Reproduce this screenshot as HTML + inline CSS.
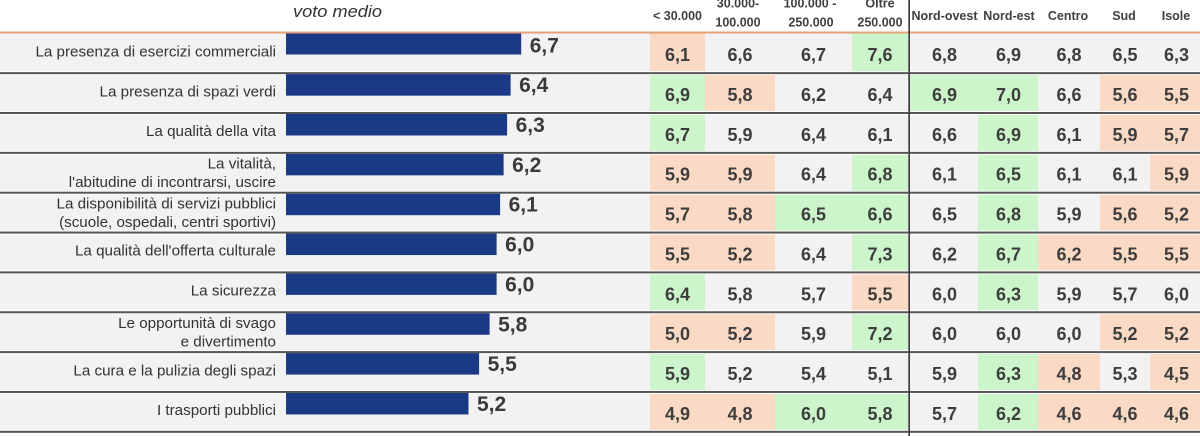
<!DOCTYPE html>
<html><head><meta charset="utf-8"><style>
html,body{margin:0;padding:0;background:#fff;}
svg{display:block;}
text{font-family:"Liberation Sans",Arial,sans-serif;}
.h{font-size:12.5px;font-weight:bold;fill:#404040;text-anchor:middle;}
.l{font-size:15.2px;fill:#333;text-anchor:end;}
.v{font-size:18px;font-weight:bold;fill:#3d3d3d;text-anchor:middle;}
.b{font-size:21px;font-weight:bold;fill:#3a3a3a;}
</style></head><body>
<svg width="1200" height="436" viewBox="0 0 1200 436" xmlns="http://www.w3.org/2000/svg">
<rect x="0" y="0" width="1200" height="436" fill="#fff"/>
<rect x="0" y="33.3" width="1200" height="398.5" fill="#f2f2f2"/>

<g>
<rect x="650" y="33.3" width="55" height="39.85" fill="#fad9c5"/>
<rect x="852" y="33.3" width="56" height="39.85" fill="#ccf5cc"/>
<rect x="650" y="73.15" width="55" height="39.85" fill="#ccf5cc"/>
<rect x="705" y="73.15" width="70" height="39.85" fill="#fad9c5"/>
<rect x="910" y="73.15" width="128" height="39.85" fill="#ccf5cc"/>
<rect x="1100" y="73.15" width="100" height="39.85" fill="#fad9c5"/>
<rect x="650" y="113" width="55" height="39.85" fill="#ccf5cc"/>
<rect x="978" y="113" width="60" height="39.85" fill="#ccf5cc"/>
<rect x="1100" y="113" width="100" height="39.85" fill="#fad9c5"/>
<rect x="650" y="152.85" width="125" height="39.85" fill="#fad9c5"/>
<rect x="852" y="152.85" width="56" height="39.85" fill="#ccf5cc"/>
<rect x="978" y="152.85" width="60" height="39.85" fill="#ccf5cc"/>
<rect x="1150" y="152.85" width="50" height="39.85" fill="#fad9c5"/>
<rect x="650" y="192.7" width="125" height="39.85" fill="#fad9c5"/>
<rect x="775" y="192.7" width="133" height="39.85" fill="#ccf5cc"/>
<rect x="978" y="192.7" width="60" height="39.85" fill="#ccf5cc"/>
<rect x="1100" y="192.7" width="100" height="39.85" fill="#fad9c5"/>
<rect x="650" y="232.55" width="125" height="39.85" fill="#fad9c5"/>
<rect x="852" y="232.55" width="56" height="39.85" fill="#ccf5cc"/>
<rect x="978" y="232.55" width="60" height="39.85" fill="#ccf5cc"/>
<rect x="1038" y="232.55" width="162" height="39.85" fill="#fad9c5"/>
<rect x="650" y="272.4" width="55" height="39.85" fill="#ccf5cc"/>
<rect x="852" y="272.4" width="56" height="39.85" fill="#fad9c5"/>
<rect x="978" y="272.4" width="60" height="39.85" fill="#ccf5cc"/>
<rect x="650" y="312.25" width="125" height="39.85" fill="#fad9c5"/>
<rect x="852" y="312.25" width="56" height="39.85" fill="#ccf5cc"/>
<rect x="1100" y="312.25" width="100" height="39.85" fill="#fad9c5"/>
<rect x="650" y="352.1" width="55" height="39.85" fill="#ccf5cc"/>
<rect x="978" y="352.1" width="60" height="39.85" fill="#ccf5cc"/>
<rect x="1038" y="352.1" width="62" height="39.85" fill="#fad9c5"/>
<rect x="1150" y="352.1" width="50" height="39.85" fill="#fad9c5"/>
<rect x="650" y="391.95" width="125" height="39.85" fill="#fad9c5"/>
<rect x="775" y="391.95" width="133" height="39.85" fill="#ccf5cc"/>
<rect x="978" y="391.95" width="60" height="39.85" fill="#ccf5cc"/>
<rect x="1038" y="391.95" width="162" height="39.85" fill="#fad9c5"/>
</g>

<g>
<rect x="0" y="71.15" width="1200" height="4" fill="#fff"/><rect x="0" y="72.15" width="1200" height="2" fill="#555"/>
<rect x="0" y="111" width="1200" height="4" fill="#fff"/><rect x="0" y="112" width="1200" height="2" fill="#555"/>
<rect x="0" y="150.85" width="1200" height="4" fill="#fff"/><rect x="0" y="151.85" width="1200" height="2" fill="#555"/>
<rect x="0" y="190.7" width="1200" height="4" fill="#fff"/><rect x="0" y="191.7" width="1200" height="2" fill="#555"/>
<rect x="0" y="230.55" width="1200" height="4" fill="#fff"/><rect x="0" y="231.55" width="1200" height="2" fill="#555"/>
<rect x="0" y="270.4" width="1200" height="4" fill="#fff"/><rect x="0" y="271.4" width="1200" height="2" fill="#555"/>
<rect x="0" y="310.25" width="1200" height="4" fill="#fff"/><rect x="0" y="311.25" width="1200" height="2" fill="#555"/>
<rect x="0" y="350.1" width="1200" height="4" fill="#fff"/><rect x="0" y="351.1" width="1200" height="2" fill="#555"/>
<rect x="0" y="389.95" width="1200" height="4" fill="#fff"/><rect x="0" y="390.95" width="1200" height="2" fill="#555"/>
<rect x="0" y="429.8" width="1200" height="6.2" fill="#fff"/><rect x="0" y="430.8" width="1200" height="2" fill="#555"/>
</g>

<rect x="0" y="31.5" width="1200" height="2" fill="#e5a078"/>
<rect x="908.3" y="0" width="1.7" height="436" fill="#404040"/>

<text x="293" y="17" font-size="16.5" font-style="italic" fill="#333" textLength="89" lengthAdjust="spacingAndGlyphs">voto medio</text>
<text class="h" x="677.5" y="20">&lt; 30.000</text>
<text class="h" x="738" y="7.5">30.000-</text>
<text class="h" x="738" y="26.5">100.000</text>
<text class="h" x="810" y="7.5">100.000 -</text>
<text class="h" x="811" y="26.5">250.000</text>
<text class="h" x="880" y="7.5">Oltre</text>
<text class="h" x="880" y="26.5">250.000</text>
<text class="h" x="944.5" y="20">Nord-ovest</text>
<text class="h" x="1009" y="20">Nord-est</text>
<text class="h" x="1068" y="20">Centro</text>
<text class="h" x="1124" y="20">Sud</text>
<text class="h" x="1176" y="20">Isole</text>

<g fill="#1a3a86">
<rect x="286" y="33.5" width="235.2" height="21"/>
<rect x="286" y="74.15" width="224.6" height="21.5"/>
<rect x="286" y="114" width="221.1" height="21.5"/>
<rect x="286" y="153.85" width="217.6" height="21.5"/>
<rect x="286" y="193.7" width="214.1" height="21.5"/>
<rect x="286" y="233.55" width="210.6" height="21.5"/>
<rect x="286" y="273.4" width="210.6" height="21.5"/>
<rect x="286" y="313.25" width="203.6" height="21.5"/>
<rect x="286" y="353.1" width="193.1" height="21.5"/>
<rect x="286" y="392.95" width="182.5" height="21.5"/>
</g>
<text class="b" x="529.7" y="52.3">6,7</text>
<text class="b" x="519.1" y="92.15">6,4</text>
<text class="b" x="515.6" y="132">6,3</text>
<text class="b" x="512.1" y="171.85">6,2</text>
<text class="b" x="508.6" y="211.7">6,1</text>
<text class="b" x="505.1" y="251.55">6,0</text>
<text class="b" x="505.1" y="291.4">6,0</text>
<text class="b" x="498.1" y="331.25">5,8</text>
<text class="b" x="487.6" y="371.1">5,5</text>
<text class="b" x="477" y="410.95">5,2</text>

<text class="l" x="276" y="56.5">La presenza di esercizi commerciali</text>
<text class="l" x="276" y="96.3">La presenza di spazi verdi</text>
<text class="l" x="276" y="136.2">La qualità della vita</text>
<text class="l" x="276" y="168.5">La vitalità,</text>
<text class="l" x="276" y="187">l'abitudine di incontrarsi, uscire</text>
<text class="l" x="276" y="208.3">La disponibilità di servizi pubblici</text>
<text class="l" x="276" y="226.8">(scuole, ospedali, centri sportivi)</text>
<text class="l" x="276" y="255.7">La qualità dell'offerta culturale</text>
<text class="l" x="276" y="295.6">La sicurezza</text>
<text class="l" x="276" y="327.9">Le opportunità di svago</text>
<text class="l" x="276" y="346.4">e divertimento</text>
<text class="l" x="276" y="375.3">La cura e la pulizia degli spazi</text>
<text class="l" x="276" y="415.1">I trasporti pubblici</text>

<g>
<text class="v" x="677.5" y="61.15">6,1</text><text class="v" x="740" y="61.15">6,6</text><text class="v" x="813.5" y="61.15">6,7</text><text class="v" x="880" y="61.15">7,6</text><text class="v" x="944.5" y="61.15">6,8</text><text class="v" x="1008.5" y="61.15">6,9</text><text class="v" x="1069" y="61.15">6,8</text><text class="v" x="1125" y="61.15">6,5</text><text class="v" x="1176.5" y="61.15">6,3</text>

<text class="v" x="677.5" y="101">6,9</text><text class="v" x="740" y="101">5,8</text><text class="v" x="813.5" y="101">6,2</text><text class="v" x="880" y="101">6,4</text><text class="v" x="944.5" y="101">6,9</text><text class="v" x="1008.5" y="101">7,0</text><text class="v" x="1069" y="101">6,6</text><text class="v" x="1125" y="101">5,6</text><text class="v" x="1176.5" y="101">5,5</text>

<text class="v" x="677.5" y="140.85">6,7</text><text class="v" x="740" y="140.85">5,9</text><text class="v" x="813.5" y="140.85">6,4</text><text class="v" x="880" y="140.85">6,1</text><text class="v" x="944.5" y="140.85">6,6</text><text class="v" x="1008.5" y="140.85">6,9</text><text class="v" x="1069" y="140.85">6,1</text><text class="v" x="1125" y="140.85">5,9</text><text class="v" x="1176.5" y="140.85">5,7</text>

<text class="v" x="677.5" y="180.7">5,9</text><text class="v" x="740" y="180.7">5,9</text><text class="v" x="813.5" y="180.7">6,4</text><text class="v" x="880" y="180.7">6,8</text><text class="v" x="944.5" y="180.7">6,1</text><text class="v" x="1008.5" y="180.7">6,5</text><text class="v" x="1069" y="180.7">6,1</text><text class="v" x="1125" y="180.7">6,1</text><text class="v" x="1176.5" y="180.7">5,9</text>

<text class="v" x="677.5" y="220.55">5,7</text><text class="v" x="740" y="220.55">5,8</text><text class="v" x="813.5" y="220.55">6,5</text><text class="v" x="880" y="220.55">6,6</text><text class="v" x="944.5" y="220.55">6,5</text><text class="v" x="1008.5" y="220.55">6,8</text><text class="v" x="1069" y="220.55">5,9</text><text class="v" x="1125" y="220.55">5,6</text><text class="v" x="1176.5" y="220.55">5,2</text>

<text class="v" x="677.5" y="260.4">5,5</text><text class="v" x="740" y="260.4">5,2</text><text class="v" x="813.5" y="260.4">6,4</text><text class="v" x="880" y="260.4">7,3</text><text class="v" x="944.5" y="260.4">6,2</text><text class="v" x="1008.5" y="260.4">6,7</text><text class="v" x="1069" y="260.4">6,2</text><text class="v" x="1125" y="260.4">5,5</text><text class="v" x="1176.5" y="260.4">5,5</text>

<text class="v" x="677.5" y="300.25">6,4</text><text class="v" x="740" y="300.25">5,8</text><text class="v" x="813.5" y="300.25">5,7</text><text class="v" x="880" y="300.25">5,5</text><text class="v" x="944.5" y="300.25">6,0</text><text class="v" x="1008.5" y="300.25">6,3</text><text class="v" x="1069" y="300.25">5,9</text><text class="v" x="1125" y="300.25">5,7</text><text class="v" x="1176.5" y="300.25">6,0</text>

<text class="v" x="677.5" y="340.1">5,0</text><text class="v" x="740" y="340.1">5,2</text><text class="v" x="813.5" y="340.1">5,9</text><text class="v" x="880" y="340.1">7,2</text><text class="v" x="944.5" y="340.1">6,0</text><text class="v" x="1008.5" y="340.1">6,0</text><text class="v" x="1069" y="340.1">6,0</text><text class="v" x="1125" y="340.1">5,2</text><text class="v" x="1176.5" y="340.1">5,2</text>

<text class="v" x="677.5" y="379.95">5,9</text><text class="v" x="740" y="379.95">5,2</text><text class="v" x="813.5" y="379.95">5,4</text><text class="v" x="880" y="379.95">5,1</text><text class="v" x="944.5" y="379.95">5,9</text><text class="v" x="1008.5" y="379.95">6,3</text><text class="v" x="1069" y="379.95">4,8</text><text class="v" x="1125" y="379.95">5,3</text><text class="v" x="1176.5" y="379.95">4,5</text>

<text class="v" x="677.5" y="419.8">4,9</text><text class="v" x="740" y="419.8">4,8</text><text class="v" x="813.5" y="419.8">6,0</text><text class="v" x="880" y="419.8">5,8</text><text class="v" x="944.5" y="419.8">5,7</text><text class="v" x="1008.5" y="419.8">6,2</text><text class="v" x="1069" y="419.8">4,6</text><text class="v" x="1125" y="419.8">4,6</text><text class="v" x="1176.5" y="419.8">4,6</text>
</g>
</svg>
</body></html>
